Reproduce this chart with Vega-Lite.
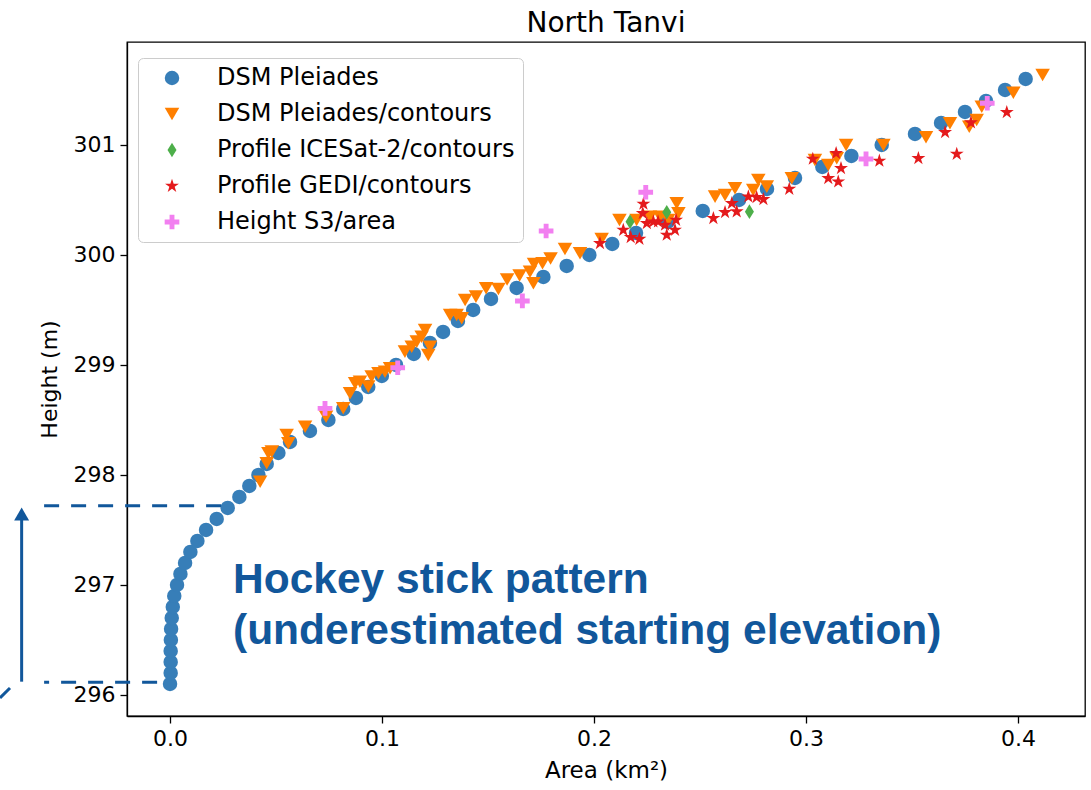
{
"$schema": "https://vega.github.io/schema/vega-lite/v6.json",
"width": 958, "height": 674,
"autosize": {"type": "none"},
"padding": {"left": 127, "top": 42, "right": 6, "bottom": 74},
"config": {
  "font": "DejaVu Sans",
  "view": {"stroke": "#000000", "strokeWidth": 1.3},
  "axis": {"domainColor": "#000", "domainWidth": 1.3, "tickColor": "#000", "tickWidth": 1.3, "tickSize": 7, "labelColor": "#000", "labelFontSize": 22, "titleFontSize": 22, "titleColor": "#000", "titleFontWeight": "normal", "labelFont": "DejaVu Sans", "titleFont": "DejaVu Sans", "grid": false, "labelPadding": 5},
  "legend": {"orient": "none", "legendX": 11, "legendY": 16, "padding": 8, "strokeColor": "#cccccc", "fillColor": "rgba(255,255,255,0.8)", "cornerRadius": 5, "labelFontSize": 24, "labelFont": "DejaVu Sans", "labelColor": "#000", "labelLimit": 600, "rowPadding": 12, "symbolOffset": 14, "labelOffset": 33, "symbolStrokeWidth": 0}
},
"title": {"text": "North Tanvi", "fontSize": 28, "fontWeight": "normal", "font": "DejaVu Sans", "color": "#000", "offset": 4, "anchor": "middle"},
"encoding": {
  "x": {"field": "x", "type": "quantitative", "scale": {"domain": [-0.0203, 0.4316], "nice": false, "zero": false}, "axis": {"title": "Area (km²)", "titleFontSize": 23, "values": [0, 0.1, 0.2, 0.3, 0.4], "format": ".1f", "titlePadding": 10}},
  "y": {"field": "y", "type": "quantitative", "scale": {"domain": [295.809, 301.936], "nice": false, "zero": false}, "axis": {"title": "Height (m)", "values": [296, 297, 298, 299, 300, 301], "format": "d", "titlePadding": 12}}
},
"layer": [
  {
    "data": {"values": [
      {"series": "DSM Pleiades", "x": 0.0000, "y": 296.1},
      {"series": "DSM Pleiades", "x": 0.0003, "y": 296.2},
      {"series": "DSM Pleiades", "x": 0.0003, "y": 296.3},
      {"series": "DSM Pleiades", "x": 0.0003, "y": 296.4},
      {"series": "DSM Pleiades", "x": 0.0004, "y": 296.5},
      {"series": "DSM Pleiades", "x": 0.0005, "y": 296.6},
      {"series": "DSM Pleiades", "x": 0.0008, "y": 296.7},
      {"series": "DSM Pleiades", "x": 0.0013, "y": 296.8},
      {"series": "DSM Pleiades", "x": 0.0020, "y": 296.9},
      {"series": "DSM Pleiades", "x": 0.0033, "y": 297.0},
      {"series": "DSM Pleiades", "x": 0.0049, "y": 297.1},
      {"series": "DSM Pleiades", "x": 0.0071, "y": 297.2},
      {"series": "DSM Pleiades", "x": 0.0096, "y": 297.3},
      {"series": "DSM Pleiades", "x": 0.0129, "y": 297.4},
      {"series": "DSM Pleiades", "x": 0.0170, "y": 297.5},
      {"series": "DSM Pleiades", "x": 0.0220, "y": 297.6},
      {"series": "DSM Pleiades", "x": 0.0272, "y": 297.7},
      {"series": "DSM Pleiades", "x": 0.0327, "y": 297.8},
      {"series": "DSM Pleiades", "x": 0.0374, "y": 297.9},
      {"series": "DSM Pleiades", "x": 0.0417, "y": 298.0},
      {"series": "DSM Pleiades", "x": 0.0456, "y": 298.1},
      {"series": "DSM Pleiades", "x": 0.0511, "y": 298.2},
      {"series": "DSM Pleiades", "x": 0.0566, "y": 298.3},
      {"series": "DSM Pleiades", "x": 0.0660, "y": 298.4},
      {"series": "DSM Pleiades", "x": 0.0747, "y": 298.5},
      {"series": "DSM Pleiades", "x": 0.0817, "y": 298.6},
      {"series": "DSM Pleiades", "x": 0.0877, "y": 298.7},
      {"series": "DSM Pleiades", "x": 0.0935, "y": 298.8},
      {"series": "DSM Pleiades", "x": 0.0999, "y": 298.9},
      {"series": "DSM Pleiades", "x": 0.1066, "y": 299.0},
      {"series": "DSM Pleiades", "x": 0.1150, "y": 299.1},
      {"series": "DSM Pleiades", "x": 0.1226, "y": 299.2},
      {"series": "DSM Pleiades", "x": 0.1288, "y": 299.3},
      {"series": "DSM Pleiades", "x": 0.1358, "y": 299.4},
      {"series": "DSM Pleiades", "x": 0.1430, "y": 299.5},
      {"series": "DSM Pleiades", "x": 0.1514, "y": 299.6},
      {"series": "DSM Pleiades", "x": 0.1635, "y": 299.7},
      {"series": "DSM Pleiades", "x": 0.1761, "y": 299.8},
      {"series": "DSM Pleiades", "x": 0.1871, "y": 299.9},
      {"series": "DSM Pleiades", "x": 0.1978, "y": 300.0},
      {"series": "DSM Pleiades", "x": 0.2086, "y": 300.1},
      {"series": "DSM Pleiades", "x": 0.2198, "y": 300.2},
      {"series": "DSM Pleiades", "x": 0.2347, "y": 300.3},
      {"series": "DSM Pleiades", "x": 0.2513, "y": 300.4},
      {"series": "DSM Pleiades", "x": 0.2684, "y": 300.5},
      {"series": "DSM Pleiades", "x": 0.2816, "y": 300.6},
      {"series": "DSM Pleiades", "x": 0.2948, "y": 300.7},
      {"series": "DSM Pleiades", "x": 0.3077, "y": 300.8},
      {"series": "DSM Pleiades", "x": 0.3214, "y": 300.9},
      {"series": "DSM Pleiades", "x": 0.3357, "y": 301.0},
      {"series": "DSM Pleiades", "x": 0.3514, "y": 301.1},
      {"series": "DSM Pleiades", "x": 0.3637, "y": 301.2},
      {"series": "DSM Pleiades", "x": 0.3750, "y": 301.3},
      {"series": "DSM Pleiades", "x": 0.3849, "y": 301.4},
      {"series": "DSM Pleiades", "x": 0.3939, "y": 301.5},
      {"series": "DSM Pleiades", "x": 0.4036, "y": 301.6},
      {"series": "DSM Pleiades/contours", "x": 0.0425, "y": 297.939},
      {"series": "DSM Pleiades/contours", "x": 0.0456, "y": 298.106},
      {"series": "DSM Pleiades/contours", "x": 0.0464, "y": 298.197},
      {"series": "DSM Pleiades/contours", "x": 0.0480, "y": 298.212},
      {"series": "DSM Pleiades/contours", "x": 0.0550, "y": 298.364},
      {"series": "DSM Pleiades/contours", "x": 0.0558, "y": 298.288},
      {"series": "DSM Pleiades/contours", "x": 0.0637, "y": 298.439},
      {"series": "DSM Pleiades/contours", "x": 0.0736, "y": 298.530},
      {"series": "DSM Pleiades/contours", "x": 0.0817, "y": 298.606},
      {"series": "DSM Pleiades/contours", "x": 0.0849, "y": 298.743},
      {"series": "DSM Pleiades/contours", "x": 0.0873, "y": 298.834},
      {"series": "DSM Pleiades/contours", "x": 0.0896, "y": 298.848},
      {"series": "DSM Pleiades/contours", "x": 0.0935, "y": 298.803},
      {"series": "DSM Pleiades/contours", "x": 0.0951, "y": 298.894},
      {"series": "DSM Pleiades/contours", "x": 0.0983, "y": 298.925},
      {"series": "DSM Pleiades/contours", "x": 0.1014, "y": 298.939},
      {"series": "DSM Pleiades/contours", "x": 0.1038, "y": 298.970},
      {"series": "DSM Pleiades/contours", "x": 0.1108, "y": 299.121},
      {"series": "DSM Pleiades/contours", "x": 0.1140, "y": 299.166},
      {"series": "DSM Pleiades/contours", "x": 0.1164, "y": 299.212},
      {"series": "DSM Pleiades/contours", "x": 0.1187, "y": 299.257},
      {"series": "DSM Pleiades/contours", "x": 0.1203, "y": 299.318},
      {"series": "DSM Pleiades/contours", "x": 0.1226, "y": 299.166},
      {"series": "DSM Pleiades/contours", "x": 0.1218, "y": 299.091},
      {"series": "DSM Pleiades/contours", "x": 0.1321, "y": 299.455},
      {"series": "DSM Pleiades/contours", "x": 0.1352, "y": 299.455},
      {"series": "DSM Pleiades/contours", "x": 0.1376, "y": 299.425},
      {"series": "DSM Pleiades/contours", "x": 0.1392, "y": 299.591},
      {"series": "DSM Pleiades/contours", "x": 0.1443, "y": 299.621},
      {"series": "DSM Pleiades/contours", "x": 0.1491, "y": 299.697},
      {"series": "DSM Pleiades/contours", "x": 0.1549, "y": 299.691},
      {"series": "DSM Pleiades/contours", "x": 0.1590, "y": 299.777},
      {"series": "DSM Pleiades/contours", "x": 0.1649, "y": 299.814},
      {"series": "DSM Pleiades/contours", "x": 0.1698, "y": 299.848},
      {"series": "DSM Pleiades/contours", "x": 0.1714, "y": 299.743},
      {"series": "DSM Pleiades/contours", "x": 0.1717, "y": 299.918},
      {"series": "DSM Pleiades/contours", "x": 0.1757, "y": 299.925},
      {"series": "DSM Pleiades/contours", "x": 0.1795, "y": 299.968},
      {"series": "DSM Pleiades/contours", "x": 0.1863, "y": 300.055},
      {"series": "DSM Pleiades/contours", "x": 0.1934, "y": 300.015},
      {"series": "DSM Pleiades/contours", "x": 0.2036, "y": 300.145},
      {"series": "DSM Pleiades/contours", "x": 0.2120, "y": 300.318},
      {"series": "DSM Pleiades/contours", "x": 0.2201, "y": 300.318},
      {"series": "DSM Pleiades/contours", "x": 0.2264, "y": 300.348},
      {"series": "DSM Pleiades/contours", "x": 0.2311, "y": 300.348},
      {"series": "DSM Pleiades/contours", "x": 0.2350, "y": 300.318},
      {"series": "DSM Pleiades/contours", "x": 0.2390, "y": 300.470},
      {"series": "DSM Pleiades/contours", "x": 0.2398, "y": 300.379},
      {"series": "DSM Pleiades/contours", "x": 0.2571, "y": 300.530},
      {"series": "DSM Pleiades/contours", "x": 0.2618, "y": 300.545},
      {"series": "DSM Pleiades/contours", "x": 0.2665, "y": 300.606},
      {"series": "DSM Pleiades/contours", "x": 0.2751, "y": 300.591},
      {"series": "DSM Pleiades/contours", "x": 0.2775, "y": 300.682},
      {"series": "DSM Pleiades/contours", "x": 0.2815, "y": 300.621},
      {"series": "DSM Pleiades/contours", "x": 0.2933, "y": 300.697},
      {"series": "DSM Pleiades/contours", "x": 0.3042, "y": 300.864},
      {"series": "DSM Pleiades/contours", "x": 0.3105, "y": 300.818},
      {"series": "DSM Pleiades/contours", "x": 0.3145, "y": 300.879},
      {"series": "DSM Pleiades/contours", "x": 0.3189, "y": 301.000},
      {"series": "DSM Pleiades/contours", "x": 0.3365, "y": 301.000},
      {"series": "DSM Pleiades/contours", "x": 0.3566, "y": 301.070},
      {"series": "DSM Pleiades/contours", "x": 0.3679, "y": 301.197},
      {"series": "DSM Pleiades/contours", "x": 0.3770, "y": 301.166},
      {"series": "DSM Pleiades/contours", "x": 0.3805, "y": 301.227},
      {"series": "DSM Pleiades/contours", "x": 0.3829, "y": 301.348},
      {"series": "DSM Pleiades/contours", "x": 0.3978, "y": 301.475},
      {"series": "DSM Pleiades/contours", "x": 0.4116, "y": 301.636},
      {"series": "Profile ICESat-2/contours", "x": 0.2170, "y": 300.303},
      {"series": "Profile ICESat-2/contours", "x": 0.2343, "y": 300.388},
      {"series": "Profile ICESat-2/contours", "x": 0.2733, "y": 300.394},
      {"series": "Profile GEDI/contours", "x": 0.2028, "y": 300.106},
      {"series": "Profile GEDI/contours", "x": 0.2138, "y": 300.227},
      {"series": "Profile GEDI/contours", "x": 0.2173, "y": 300.161},
      {"series": "Profile GEDI/contours", "x": 0.2214, "y": 300.145},
      {"series": "Profile GEDI/contours", "x": 0.2233, "y": 300.464},
      {"series": "Profile GEDI/contours", "x": 0.2230, "y": 300.379},
      {"series": "Profile GEDI/contours", "x": 0.2249, "y": 300.288},
      {"series": "Profile GEDI/contours", "x": 0.2280, "y": 300.303},
      {"series": "Profile GEDI/contours", "x": 0.2302, "y": 300.303},
      {"series": "Profile GEDI/contours", "x": 0.2335, "y": 300.273},
      {"series": "Profile GEDI/contours", "x": 0.2343, "y": 300.182},
      {"series": "Profile GEDI/contours", "x": 0.2382, "y": 300.227},
      {"series": "Profile GEDI/contours", "x": 0.2387, "y": 300.318},
      {"series": "Profile GEDI/contours", "x": 0.2563, "y": 300.334},
      {"series": "Profile GEDI/contours", "x": 0.2618, "y": 300.388},
      {"series": "Profile GEDI/contours", "x": 0.2650, "y": 300.470},
      {"series": "Profile GEDI/contours", "x": 0.2673, "y": 300.394},
      {"series": "Profile GEDI/contours", "x": 0.2728, "y": 300.530},
      {"series": "Profile GEDI/contours", "x": 0.2767, "y": 300.525},
      {"series": "Profile GEDI/contours", "x": 0.2799, "y": 300.506},
      {"series": "Profile GEDI/contours", "x": 0.2921, "y": 300.600},
      {"series": "Profile GEDI/contours", "x": 0.3032, "y": 300.873},
      {"series": "Profile GEDI/contours", "x": 0.3105, "y": 300.697},
      {"series": "Profile GEDI/contours", "x": 0.3152, "y": 300.666},
      {"series": "Profile GEDI/contours", "x": 0.3165, "y": 300.788},
      {"series": "Profile GEDI/contours", "x": 0.3142, "y": 300.925},
      {"series": "Profile GEDI/contours", "x": 0.3346, "y": 300.855},
      {"series": "Profile GEDI/contours", "x": 0.3530, "y": 300.879},
      {"series": "Profile GEDI/contours", "x": 0.3656, "y": 301.115},
      {"series": "Profile GEDI/contours", "x": 0.3711, "y": 300.918},
      {"series": "Profile GEDI/contours", "x": 0.3778, "y": 301.203},
      {"series": "Profile GEDI/contours", "x": 0.3947, "y": 301.297},
      {"series": "Height S3/area", "x": 0.0731, "y": 298.606},
      {"series": "Height S3/area", "x": 0.1074, "y": 298.975},
      {"series": "Height S3/area", "x": 0.1662, "y": 299.582},
      {"series": "Height S3/area", "x": 0.1774, "y": 300.218},
      {"series": "Height S3/area", "x": 0.2244, "y": 300.570},
      {"series": "Height S3/area", "x": 0.3283, "y": 300.873},
      {"series": "Height S3/area", "x": 0.3855, "y": 301.379}
    ]},
    "mark": {"type": "point", "filled": true, "opacity": 1, "strokeWidth": 0},
    "encoding": {
      "color": {"field": "series", "type": "nominal", "sort": null, "scale": {"domain": ["DSM Pleiades", "DSM Pleiades/contours", "Profile ICESat-2/contours", "Profile GEDI/contours", "Height S3/area"], "range": ["#377eb8", "#ff7f00", "#4daf4a", "#e41a1c", "#f27ff0"]}, "legend": {"title": null}},
      "shape": {"field": "series", "type": "nominal", "sort": null, "scale": {"domain": ["DSM Pleiades", "DSM Pleiades/contours", "Profile ICESat-2/contours", "Profile GEDI/contours", "Height S3/area"], "range": ["circle", "triangle-down", "M0,-1L0.62,0L0,1L-0.62,0Z", "M0,-1L0.2245,-0.309L0.9511,-0.309L0.3633,0.118L0.5878,0.809L0,0.382L-0.5878,0.809L-0.3633,0.118L-0.9511,-0.309L-0.2245,-0.309Z", "M-1,-0.333L-0.333,-0.333L-0.333,-1L0.333,-1L0.333,-0.333L1,-0.333L1,0.333L0.333,0.333L0.333,1L-0.333,1L-0.333,0.333L-1,0.333Z"]}, "legend": {"title": null}},
      "size": {"field": "series", "type": "nominal", "sort": null, "scale": {"domain": ["DSM Pleiades", "DSM Pleiades/contours", "Profile ICESat-2/contours", "Profile GEDI/contours", "Height S3/area"], "range": [210, 215, 320, 175, 210]}, "legend": {"title": null}}
    }
  },
  {
    "data": {"values": [{"x": -0.0594, "y": 297.72, "x2": 0.0274, "y2": 297.72}]},
    "mark": {"type": "rule", "color": "#11579b", "strokeWidth": 3, "strokeDash": [15, 12]},
    "encoding": {"x2": {"field": "x2"}, "y2": {"field": "y2"}}
  },
  {
    "data": {"values": [{"x": -0.0594, "y": 296.115, "x2": -0.0038, "y2": 296.115}]},
    "mark": {"type": "rule", "color": "#11579b", "strokeWidth": 3, "strokeDash": [15, 12], "strokeDashOffset": 10},
    "encoding": {"x2": {"field": "x2"}, "y2": {"field": "y2"}}
  },
  {
    "data": {"values": [{"x": -0.0700, "y": 296.121, "x2": -0.0700, "y2": 297.60}, {"x": -0.0802, "y": 295.973, "x2": -0.0755, "y2": 296.064}]},
    "mark": {"type": "rule", "color": "#11579b", "strokeWidth": 3},
    "encoding": {"x2": {"field": "x2"}, "y2": {"field": "y2"}}
  },
  {
    "data": {"values": [{"x": -0.0700, "y": 297.645}]},
    "mark": {"type": "point", "shape": "triangle-up", "filled": true, "size": 225, "color": "#11579b", "opacity": 1, "strokeWidth": 0},
    "encoding": {}
  },
  {
    "data": {"values": [{"x": 0.0297, "y": 296.927, "t": "Hockey stick pattern"}, {"x": 0.0297, "y": 296.46, "t": "(underestimated starting elevation)"}]},
    "mark": {"type": "text", "align": "left", "baseline": "alphabetic", "font": "Liberation Sans", "fontWeight": "bold", "fontSize": 42.5, "color": "#11579b"},
    "encoding": {"text": {"field": "t"}}
  }
]
}
